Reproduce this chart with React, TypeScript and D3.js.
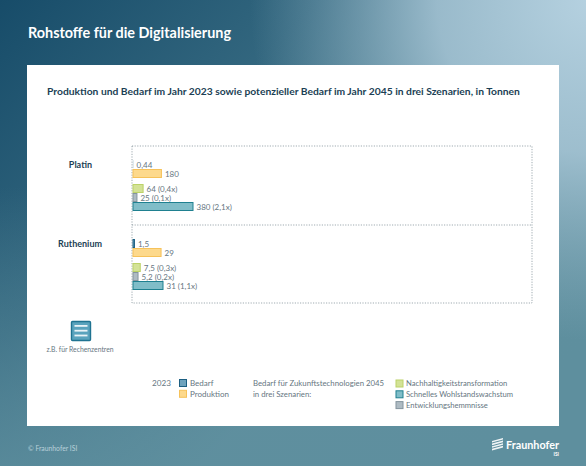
import * as d3 from "d3";

const metals = ["Platin", "Ruthenium"];
const rows2023 = ["Bedarf", "Produktion"];
const rows2045 = ["Nachhaltigkeitstransformation", "Entwicklungshemmnisse", "Schnelles Wohlstandswachstum"];

// values per metal, same order: Bedarf, Produktion, then the three scenarios
const platinValues = [0.44, 180, 64, 25, 380];
const rutheniumValues = [1.5, 29, 7.5, 5.2, 31];
const platinLabels = ["0,44", "180", "64 (0,4x)", "25 (0,1x)", "380 (2,1x)"];
const rutheniumLabels = ["1,5", "29", "7,5 (0,3x)", "5,2 (0,2x)", "31 (1,1x)"];

const colors: Record<string, { fill: string; stroke: string }> = {
  Bedarf: { fill: "#6fa3bd", stroke: "#1c5f82" },
  Produktion: { fill: "#fdd98c", stroke: "#f6c25a" },
  Nachhaltigkeitstransformation: { fill: "#d3e296", stroke: "#bcd268" },
  Entwicklungshemmnisse: { fill: "#aebbc3", stroke: "#84949e" },
  "Schnelles Wohlstandswachstum": { fill: "#80bdc8", stroke: "#1f8090" },
};

const legendRight = ["Nachhaltigkeitstransformation", "Schnelles Wohlstandswachstum", "Entwicklungshemmnisse"];

const font = "Lato, 'Open Sans', sans-serif";
const textGrey = "#66767f";
const dark = "#1c3f55";

const frame = { left: 132, right: 532, top: 146, mid: 225, bottom: 303 };

const panelY = d3.scaleBand<string>().domain(metals).range([160, 318]);
const y2023 = d3.scaleBand<string>().domain(rows2023).range([0, 18]);
const y2045 = d3.scaleBand<string>().domain(rows2045).range([24, 51]);

const xPlatin = d3.scaleLinear().domain([0, 380]).range([133, 193]);
const xRuthenium = d3.scaleLinear().domain([0, 31]).range([133, 163]);

function Bars({ metal, values, labels, x }: { metal: string; values: number[]; labels: string[]; x: d3.ScaleLinear<number, number> }) {
  const names = [...rows2023, ...rows2045];
  const top = panelY(metal) as number;
  return (
    <g>
      {names.map((name, i) => {
        const y = top + (i < 2 ? (y2023(name) as number) : (y2045(name) as number));
        const h = i < 2 ? y2023.bandwidth() : y2045.bandwidth();
        const w = x(values[i]) - x(0);
        return (
          <g key={name}>
            <rect
              x={x(0)}
              y={y + 0.5}
              width={w}
              height={h - 1}
              fill={colors[name].fill}
              stroke={colors[name].stroke}
              strokeWidth={w < 0.5 ? 0.1 : 1}
            />
            <text x={x(values[i]) + 3.5} y={y + h / 2} dominantBaseline="central" fontSize={8} fill={textGrey}>
              {labels[i]}
            </text>
          </g>
        );
      })}
    </g>
  );
}

function Swatch({ name, x, y, size }: { name: string; x: number; y: number; size: number }) {
  return <rect x={x} y={y} width={size} height={size} fill={colors[name].fill} stroke={colors[name].stroke} strokeWidth={1} />;
}

export default function App() {
  return (
    <svg
      width={586}
      height={466}
      viewBox="0 0 586 466"
      style={{ position: "fixed", left: 0, top: 0, display: "block" }}
      fontFamily={font}
    >
      <defs>
        <linearGradient id="bg" x1="0" y1="0" x2="1" y2="0.75">
          <stop offset="0%" stopColor="#174c69" />
          <stop offset="35%" stopColor="#33677f" />
          <stop offset="70%" stopColor="#5f8f9f" />
          <stop offset="100%" stopColor="#5e8f9e" />
        </linearGradient>
        <radialGradient id="glow" gradientUnits="userSpaceOnUse" cx={590} cy={0} r={340}>
          <stop offset="0%" stopColor="#b5d1e0" stopOpacity={1} />
          <stop offset="45%" stopColor="#a8c6d6" stopOpacity={0.85} />
          <stop offset="100%" stopColor="#8fb2c2" stopOpacity={0} />
        </radialGradient>
        <linearGradient id="low" x1="0" y1="0" x2="0" y2="1">
          <stop offset="40%" stopColor="#5e8f9e" stopOpacity={0} />
          <stop offset="100%" stopColor="#5e8f9e" stopOpacity={0.75} />
        </linearGradient>
      </defs>
      <rect width={586} height={466} fill="url(#bg)" />
      <rect width={586} height={466} fill="url(#low)" />
      <rect width={586} height={466} fill="url(#glow)" />

      <text x={28} y={38} fontSize={14.4} fontWeight={700} fill="#fff">
        Rohstoffe für die Digitalisierung
      </text>

      <rect x={27} y={65} width={532} height={361} fill="#fff" />

      <text x={47} y={95} fontSize={10.3} fontWeight={700} fill={dark}>
        Produktion und Bedarf im Jahr 2023 sowie potenzieller Bedarf im Jahr 2045 in drei Szenarien, in Tonnen
      </text>

      <g fill="none" stroke="#77868f" strokeWidth={0.7} strokeDasharray="1.2 1.4">
        <rect x={frame.left} y={frame.top} width={frame.right - frame.left} height={frame.bottom - frame.top} />
        <line x1={frame.left} x2={frame.right} y1={frame.mid} y2={frame.mid} />
      </g>

      {metals.map((m) => (
        <text key={m} x={m === "Platin" ? 92 : 102} y={(panelY(m) as number) + 8} textAnchor="end" fontSize={9} fontWeight={700} fill={dark}>
          {m}
        </text>
      ))}

      <Bars metal="Platin" values={platinValues} labels={platinLabels} x={xPlatin} />
      <Bars metal="Ruthenium" values={rutheniumValues} labels={rutheniumLabels} x={xRuthenium} />

      {/* server rack icon */}
      <g>
        <rect x={71.5} y={321.5} width={19} height={19} rx={1} fill="#5aa3bd" stroke="#1f7391" strokeWidth={1.4} />
        {d3.range(3).map((i) => (
          <rect key={i} x={74.5} y={325 + i * 4.8} width={13} height={1.8} fill="#e9f3f7" />
        ))}
      </g>
      <text x={80} y={352} textAnchor="middle" fontSize={6.8} fill={textGrey}>
        z.B. für Rechenzentren
      </text>

      <text x={152} y={386} fontSize={8.2} fill={textGrey}>
        2023
      </text>
      {rows2023.map((name, i) => (
        <g key={name}>
          <Swatch name={name} x={179.5} y={379.5 + i * 10.8} size={7} />
          <text x={190} y={386 + i * 10.8} fontSize={8} fill={textGrey}>
            {name}
          </text>
        </g>
      ))}

      <text x={253} y={386} fontSize={7.8} fill={textGrey}>
        Bedarf für Zukunftstechnologien 2045
      </text>
      <text x={253} y={396.5} fontSize={7.8} fill={textGrey}>
        in drei Szenarien:
      </text>
      {legendRight.map((name, i) => (
        <g key={name}>
          <Swatch name={name} x={396} y={380 + i * 10.8} size={7} />
          <text x={406} y={386 + i * 10.8} fontSize={7.65} fill={textGrey}>
            {name}
          </text>
        </g>
      ))}

      <text x={28} y={451} fontSize={6.8} fill="#b9d0d9">
        © Fraunhofer ISI
      </text>

      {/* logo */}
      <g fill="#fff">
        {d3.range(4).map((i) => (
          <path key={i} d={`M492 ${441 + i * 2.6}L503 ${438 + i * 2.6}V${439.6 + i * 2.6}L492 ${442.6 + i * 2.6}Z`} opacity={0.9} />
        ))}
      </g>
      <text x={559} y={449} textAnchor="end" fontSize={10.8} fontWeight={700} fill="#fff">
        Fraunhofer
      </text>
      <text x={559} y={456} textAnchor="end" fontSize={4.8} fontWeight={700} fill="#fff">
        ISI
      </text>
    </svg>
  );
}
